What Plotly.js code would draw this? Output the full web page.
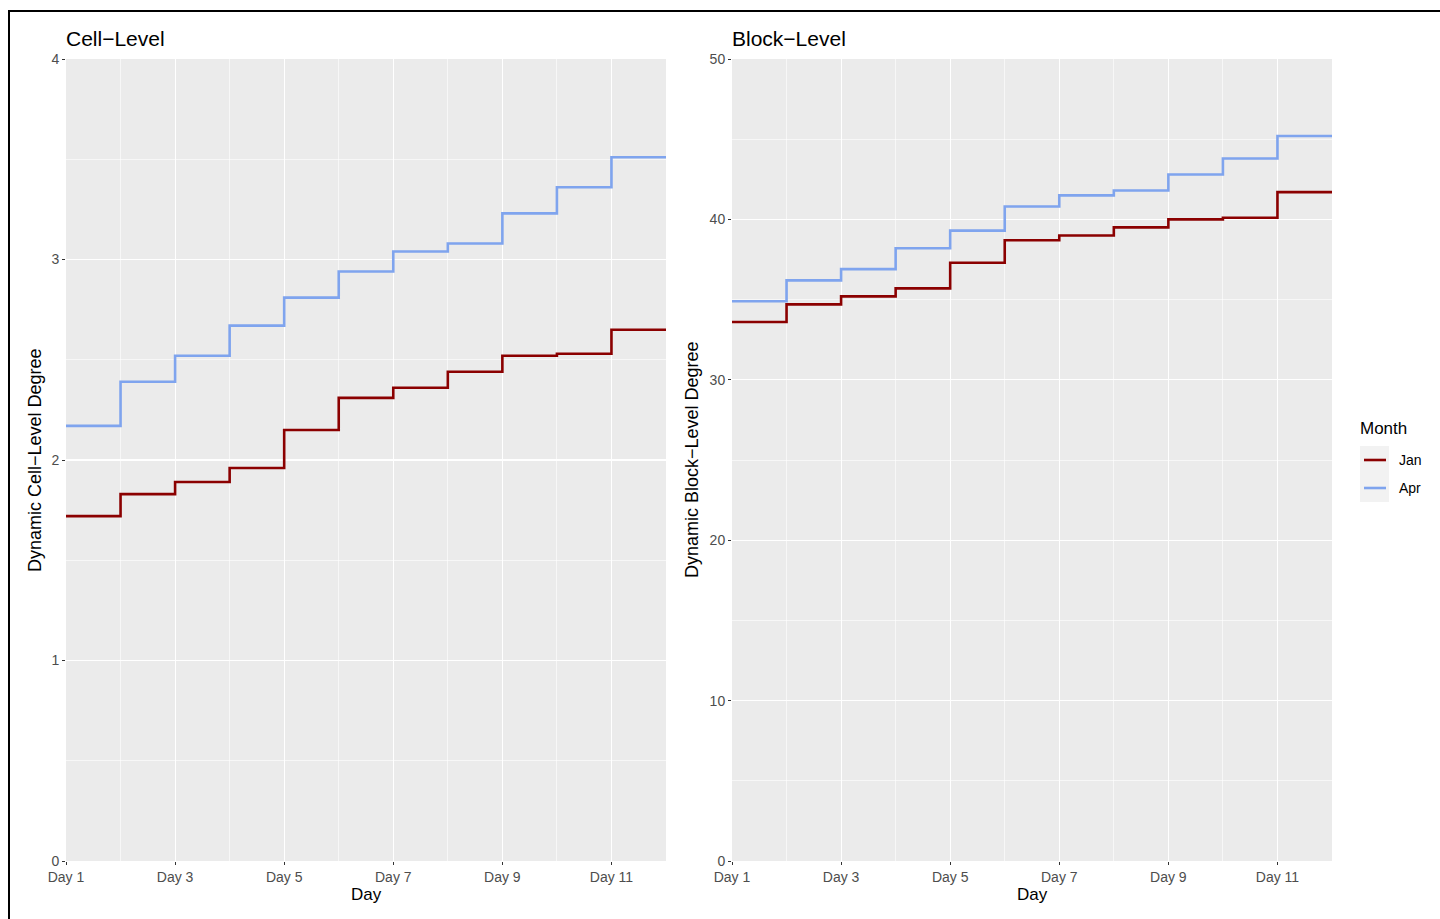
<!DOCTYPE html>
<html>
<head>
<meta charset="utf-8">
<script src="https://cdn.plot.ly/plotly-3.0.1.min.js"></script>
<style>
html,body{margin:0;padding:0;background:#fff;overflow:hidden;}
#chart{width:1440px;height:919px;}
#frame{position:absolute;left:8px;top:10px;width:1500px;height:1000px;border:2px solid #000;pointer-events:none;}
</style>
</head>
<body>
<div id="chart"></div>
<div id="frame"></div>
<script>
const days = [1,2,3,4,5,6,7,8,9,10,11,12];
const tickDays = [1,3,5,7,9,11];
const tickLabels = ["Day 1","Day 3","Day 5","Day 7","Day 9","Day 11"];
const minorDays = [2,4,6,8,10,12];
const cellJan = [1.72,1.83,1.89,1.96,2.15,2.31,2.36,2.44,2.52,2.53,2.65,2.65];
const cellApr = [2.17,2.39,2.52,2.67,2.81,2.94,3.04,3.08,3.23,3.36,3.51,3.51];
const blockJan = [33.6,34.7,35.2,35.7,37.3,38.7,39.0,39.5,40.0,40.1,41.7,41.7];
const blockApr = [34.9,36.2,36.9,38.2,39.3,40.8,41.5,41.8,42.8,43.8,45.2,45.2];
const months = ["Jan","Apr"];
const colors = {Jan:"#8B0000", Apr:"#7FA4EE"};

const W=1440, H=919;
const px = v => v/W, py = v => 1 - v/H;
const font = "Liberation Sans, Arial, Helvetica, sans-serif";

function tr(x,y,name,xa,ya){
  return {x:x,y:y,name:name,type:"scatter",mode:"lines",xaxis:xa,yaxis:ya,
    line:{shape:"hv",color:colors[name],width:2.6},showlegend:false,hoverinfo:"x+y"};
}
const data = [
  tr(days,cellJan,months[0],"x","y"),
  tr(days,cellApr,months[1],"x","y"),
  tr(days,blockJan,months[0],"x2","y2"),
  tr(days,blockApr,months[1],"x2","y2")
];

function xax(dom, anchor){
  return {domain:dom, anchor:anchor, range:[1,12], tickvals:tickDays, ticktext:tickLabels,
    showgrid:true, gridcolor:"#fff", gridwidth:1.1, zeroline:false, showline:false,
    ticks:"outside", ticklen:3, tickwidth:1, tickcolor:"#333",
    tickfont:{family:font,size:14,color:"#4d4d4d"},
    minor:{tickvals:minorDays, showgrid:true, gridcolor:"#fff", gridwidth:0.6, ticks:""},
    fixedrange:true};
}
function yax(dom, anchor, rng, tv, mv){
  return {domain:dom, anchor:anchor, range:rng, tickvals:tv, ticktext:tv.map(String),
    showgrid:true, gridcolor:"#fff", gridwidth:1.1, zeroline:false, showline:false,
    ticks:"outside", ticklen:3, tickwidth:1, tickcolor:"#333",
    tickfont:{family:font,size:14,color:"#4d4d4d"},
    minor:{tickvals:mv, showgrid:true, gridcolor:"#fff", gridwidth:0.6, ticks:""},
    fixedrange:true};
}
const ydom = [1-861/H, 1-59/H];

const legendShapes = [
  {type:"rect", xref:"paper", yref:"paper", x0:px(1360), x1:px(1389), y0:py(446), y1:py(502),
   fillcolor:"#F2F2F2", line:{width:0}, layer:"below"}
];
const legendAnn = [
  {text:"Month", xref:"paper", yref:"paper", x:px(1360), y:py(428), xanchor:"left", yanchor:"middle",
   xshift:-2, showarrow:false, font:{family:font,size:17,color:"#000"}}
];
months.forEach((m,i)=>{
  const yy = 460 + i*28;
  legendShapes.push({type:"line", xref:"paper", yref:"paper", x0:px(1364), x1:px(1386), y0:py(yy), y1:py(yy),
    line:{color:colors[m], width:2.6}});
  legendAnn.push({text:m, xref:"paper", yref:"paper", x:px(1397), y:py(yy), xanchor:"left", yanchor:"middle",
    showarrow:false, font:{family:font,size:14,color:"#000"}});
});

const layout = {
  width:W, height:H, margin:{l:0,r:0,t:0,b:0},
  paper_bgcolor:"#fff", plot_bgcolor:"#EBEBEB",
  font:{family:font},
  xaxis: xax([px(66),px(666)],"y"),
  yaxis: yax(ydom,"x",[0,4],[0,1,2,3,4],[0.5,1.5,2.5,3.5]),
  xaxis2: xax([px(732),px(1332)],"y2"),
  yaxis2: yax(ydom,"x2",[0,50],[0,10,20,30,40,50],[5,15,25,35,45]),
  showlegend:false,
  shapes: legendShapes,
  annotations:[
    {text:"Cell\u2212Level", xref:"paper", yref:"paper", x:px(66), y:py(38), xanchor:"left", yanchor:"middle",
     xshift:-2, showarrow:false, font:{family:font,size:21,color:"#000"}},
    {text:"Block\u2212Level", xref:"paper", yref:"paper", x:px(732), y:py(38), xanchor:"left", yanchor:"middle",
     xshift:-2, showarrow:false, font:{family:font,size:21,color:"#000"}},
    {text:"Day", xref:"paper", yref:"paper", x:px(366), y:py(894), xanchor:"center", yanchor:"middle",
     showarrow:false, font:{family:font,size:17,color:"#000"}},
    {text:"Day", xref:"paper", yref:"paper", x:px(1032), y:py(894), xanchor:"center", yanchor:"middle",
     showarrow:false, font:{family:font,size:17,color:"#000"}},
    {text:"Dynamic Cell\u2212Level Degree", xref:"paper", yref:"paper", x:px(35), y:py(460), xanchor:"center", yanchor:"middle",
     textangle:-90, showarrow:false, font:{family:font,size:18,color:"#000"}},
    {text:"Dynamic Block\u2212Level Degree", xref:"paper", yref:"paper", x:px(692), y:py(460), xanchor:"center", yanchor:"middle",
     textangle:-90, showarrow:false, font:{family:font,size:18,color:"#000"}}
  ].concat(legendAnn)
};
Plotly.newPlot("chart", data, layout, {displayModeBar:false, staticPlot:true});
</script>
</body>
</html>
